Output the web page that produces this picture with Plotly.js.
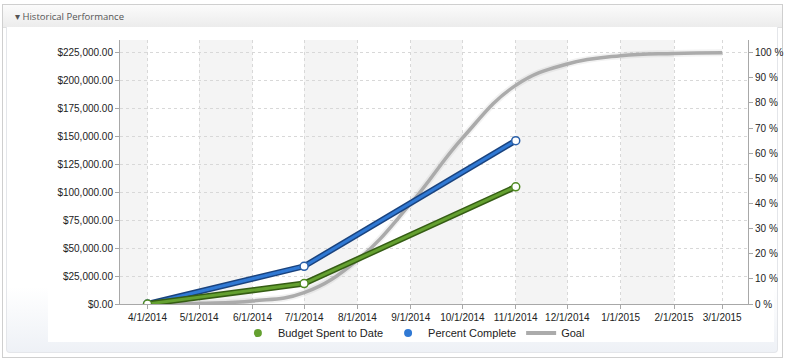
<!DOCTYPE html>
<html>
<head>
<meta charset="utf-8">
<script src="https://cdn.plot.ly/plotly-3.0.1.min.js"></script>
<style>
  html, body { margin:0; padding:0; width:785px; height:359px; overflow:hidden; background:#fff; font-family:"Liberation Sans", Arial, sans-serif; }
  #frame { position:absolute; left:2px; top:4px; width:779px; height:352px; border:1px solid #cfcfcf; background:#fff; }
  #header { position:absolute; left:0; top:0; width:779px; height:22px; background:linear-gradient(#fbfbfb,#ececec); border-bottom:1px solid #e0e0e0; }
  #header span { position:absolute; left:12px; top:5px; font-family:"Open Sans", "Liberation Sans", sans-serif; font-size:9.5px; color:#555; }
  #inner { position:absolute; width:770px; height:325px; background:linear-gradient(#ffffff 80%, #eef1f6); border:1px solid #e4e6ea; border-top:none; border-radius:0 0 4px 4px; }
  #content { position:absolute; width:726px; height:315px; background:#fff; }
  #chart { position:absolute; left:0; top:0; width:785px; height:359px; }
</style>
</head>
<body>
<div id="frame">
  <div id="header"><span>&#9662; Historical Performance</span></div>
</div>
<div id="inner" style="left:6px; top:27px;"></div>
<div id="content" style="left:48px; top:27px;"></div>
<div id="chart"></div>
<script>
// ---- data ----
const budgetDates = ["2014-04-01", "2014-07-01", "2014-11-01"];
const budgetValues = [0, 18300, 105000];

const percentDates = ["2014-04-01", "2014-07-01", "2014-11-01"];
const percentValues = [0, 15, 65];

const goalDates = ["2014-04-01", "2014-05-01", "2014-06-01", "2014-07-01", "2014-08-01", "2014-09-01",
                   "2014-10-01", "2014-11-01", "2014-12-01", "2015-01-01", "2015-02-01", "2015-03-01"];
const goalValues = [0, 0.3, 1.2, 4.5, 17.5, 40, 66, 87, 95.5, 98.8, 99.7, 100];

const tickDates = ["2014-04-01", "2014-05-01", "2014-06-01", "2014-07-01", "2014-08-01", "2014-09-01",
                   "2014-10-01", "2014-11-01", "2014-12-01", "2015-01-01", "2015-02-01", "2015-03-01"];
const tickLabels = ["4/1/2014", "5/1/2014", "6/1/2014", "7/1/2014", "8/1/2014", "9/1/2014",
                    "10/1/2014", "11/1/2014", "12/1/2014", "1/1/2015", "2/1/2015", "3/1/2015"];

const dollarTicks = [0, 25000, 50000, 75000, 100000, 125000, 150000, 175000, 200000, 225000];
const percentTicks = [0, 10, 20, 30, 40, 50, 60, 70, 80, 90, 100];

const dollarLabels = dollarTicks.map(v => "$" + v.toLocaleString("en-US", {minimumFractionDigits: 2, maximumFractionDigits: 2}));
const percentLabels = percentTicks.map(v => v + " %");

// ---- styles ----
const xStart = "2014-03-16", xEnd = "2015-03-16";
const green = "#64a030", greenDark = "#355d14";
const blue = "#3079d4", blueDark = "#1a437e";
const gray = "#ababab";

const traces = [
  // goal (percent axis, bottom layer)
  {x: goalDates, y: goalValues, yaxis: "y", mode: "lines", line: {color: "rgba(0,0,0,0.05)", width: 7, shape: "spline", smoothing: 1.2}, showlegend: false, hoverinfo: "skip"},
  {x: goalDates, y: goalValues, yaxis: "y", mode: "lines", name: "Goal", line: {color: gray, width: 3.5, shape: "spline", smoothing: 1.2}, showlegend: false},
  // percent complete
  {x: percentDates, y: percentValues, yaxis: "y", mode: "lines", line: {color: blueDark, width: 6}, showlegend: false, hoverinfo: "skip"},
  {x: percentDates, y: percentValues, yaxis: "y", mode: "lines+markers", name: "Percent Complete",
   line: {color: blue, width: 3}, marker: {size: 8, color: "#fff", line: {color: "#2a5fa8", width: 1.5}}, showlegend: false},
  // budget (dollar axis, top layer)
  {x: budgetDates, y: budgetValues, yaxis: "y2", mode: "lines", line: {color: greenDark, width: 6}, showlegend: false, hoverinfo: "skip"},
  {x: budgetDates, y: budgetValues, yaxis: "y2", mode: "lines+markers", name: "Budget Spent to Date",
   line: {color: green, width: 3}, marker: {size: 8, color: "#fff", line: {color: "#4f8a22", width: 1.5}}, showlegend: false},
  // legend entries
  {x: [null], y: [null], yaxis: "y2", mode: "markers", name: "Budget Spent to Date", marker: {size: 8, color: green}},
  {x: [null], y: [null], yaxis: "y2", mode: "markers", name: "Percent Complete", marker: {size: 8, color: blue}},
  {x: [null], y: [null], yaxis: "y2", mode: "lines", name: "Goal", line: {color: gray, width: 4}}
];

// alternating month bands
const bandEdges = [xStart].concat(tickDates);
const shapes = [];
for (let i = 0; i + 1 < bandEdges.length; i += 2) {
  shapes.push({type: "rect", xref: "x", yref: "paper", x0: bandEdges[i], x1: bandEdges[i + 1], y0: 0, y1: 1,
               fillcolor: "#f4f4f4", line: {width: 0}, layer: "below"});
}

const tickFont = {family: "Liberation Sans, Arial, sans-serif", size: 10, color: "#222"};

const layout = {
  width: 785, height: 359,
  margin: {l: 120, r: 37, t: 40, b: 55},
  paper_bgcolor: "rgba(0,0,0,0)",
  plot_bgcolor: "rgba(0,0,0,0)",
  showlegend: true,
  legend: {orientation: "h", x: 0.468, xanchor: "center", y: -0.11, yanchor: "middle",
           font: {family: "Liberation Sans, Arial, sans-serif", size: 11, color: "#222"},
           itemwidth: 30, itemgap: 40, traceorder: "normal", bgcolor: "rgba(0,0,0,0)"},
  xaxis: {type: "date", range: [xStart, xEnd], tickvals: tickDates, ticktext: tickLabels,
          showgrid: true, gridcolor: "#d8d8d8", griddash: "dot", gridwidth: 1,
          showline: true, linecolor: "#a8a8a8", ticks: "outside", ticklen: 4, tickcolor: "#a8a8a8",
          tickfont: tickFont, zeroline: false, fixedrange: true},
  yaxis: {side: "right", range: [0, 105.05], tickvals: percentTicks, ticktext: percentLabels,
          showgrid: false, zeroline: false, showline: true, linecolor: "#a8a8a8",
          ticks: "outside", ticklen: 4, tickcolor: "#a8a8a8", tickfont: tickFont, fixedrange: true},
  yaxis2: {side: "left", overlaying: "y", range: [0, 236600], tickvals: dollarTicks, ticktext: dollarLabels,
           showgrid: true, gridcolor: "#d8d8d8", griddash: "dot", gridwidth: 1,
           zeroline: false, showline: true, linecolor: "#a8a8a8",
           ticks: "outside", ticklen: 4, tickcolor: "#a8a8a8", tickfont: tickFont, fixedrange: true},
  shapes: shapes,
  hovermode: false
};

Plotly.newPlot("chart", traces, layout, {displayModeBar: false, staticPlot: true});
</script>
</body>
</html>
